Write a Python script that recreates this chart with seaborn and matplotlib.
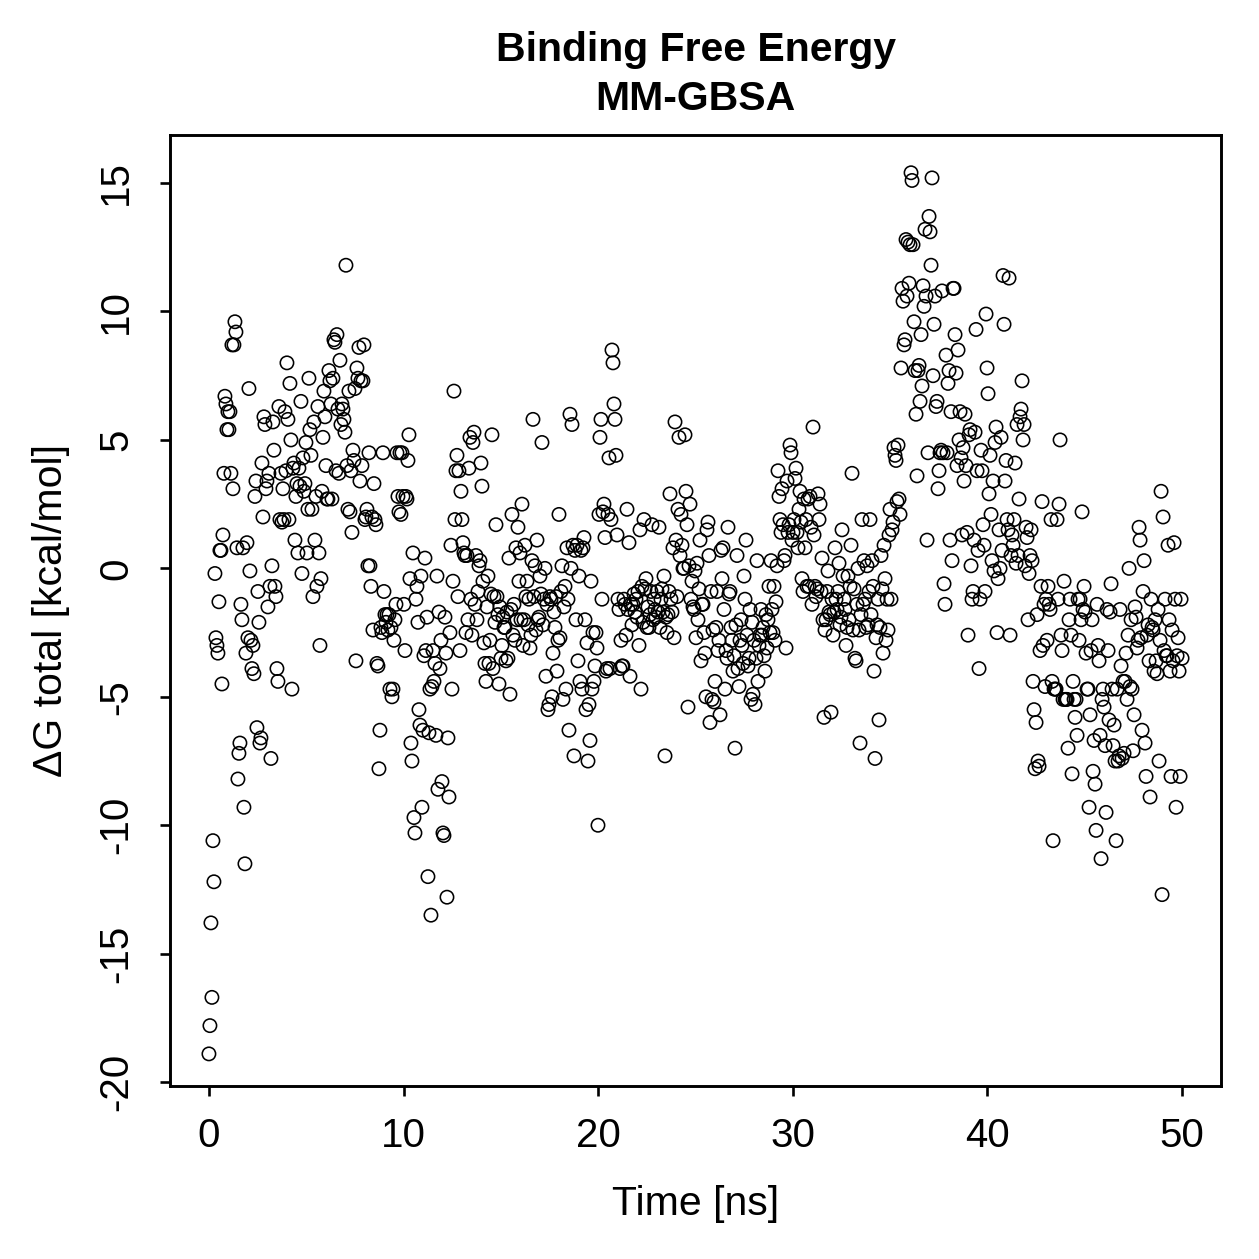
import numpy as np
import pandas as pd
import seaborn as sns
import matplotlib
matplotlib.use("Agg")
import matplotlib.pyplot as plt

# Delta G total (kcal/mol) in 5 ns blocks (time order)
dg_00_05 = [-18.9, -17.8, -13.8, -16.7, -10.6, -12.2, -0.2, -2.7, -3.0, -3.3, -1.3, 0.7, 0.7, -4.5, 1.3, 3.7, 6.7, 6.4, 5.4, 6.1,
            5.4, 6.1, 3.7, 8.7, 3.1, 8.7, 9.6, 9.2, 0.8, -8.2, -7.2, -6.8, -1.4, -2.0, 0.8, -9.3, -11.5, -3.3, 1.0, -2.7,
            7.0, -0.1, -2.8, -3.9, -3.0, -4.1, 2.8, 3.4, -6.2, -0.9, -2.1, -6.8, -6.6, 4.1, 2.0, 5.9, 5.6, 3.1, 3.4, -1.5,
            3.7, -0.7, -7.4, 0.1, 5.7, 4.6, -0.7, -1.1, -3.9, -4.4, 6.3, 1.9, 3.7, 1.8, 3.1, 1.9, 6.1, 3.8, 8.0, 5.8,
            1.9, 7.2, 5.0, -4.7, 3.9, 4.1, 1.1, 2.8, 3.3, 0.6, 3.9, 3.2, 6.5, -0.2, 4.3, 3.0, 3.3, 4.9, 0.6, 2.3]
dg_05_10 = [7.4, 5.4, 4.4, 2.3, -1.1, 5.7, 1.1, 2.8, -0.7, 6.3, 0.6, -3.0, -0.4, 3.0, 5.1, 6.9, 5.9, 4.0, 2.7, 2.7,
            7.7, 7.3, 6.4, 2.7, 7.4, 8.9, 8.8, 3.8, 9.1, 6.2, 3.7, 8.1, 5.6, 6.4, 6.2, 5.8, 5.3, 11.8, 4.0, 2.3,
            6.9, 2.2, 3.8, 1.4, 4.6, 4.2, 7.0, -3.6, 7.8, 7.4, 8.6, 3.4, 7.3, 4.0, 7.3, 8.7, 1.9, 2.0, 2.3, 0.1,
            4.5, 0.1, -0.7, 2.0, -2.4, 3.3, 1.9, 1.7, -3.7, -3.8, -7.8, -6.3, -2.3, -2.5, 4.5, -0.9, -1.8, -2.1, -1.8, -2.4,
            -1.8, -4.7, -2.3, -5.0, -4.7, -2.8, -2.0, -1.4, 4.5, 2.8, 2.2, 4.5, 2.1, 4.5, 2.8, -1.4, -3.2, 2.8, 2.7, 4.2]
dg_10_15 = [5.2, -0.4, -6.8, -7.5, 0.6, -9.7, -10.3, -1.2, -0.7, -2.1, -5.5, -6.1, -0.3, -9.3, -6.3, -3.4, 0.4, -3.2, -1.9, -12.0,
            -6.4, -4.7, -13.5, -4.6, -3.2, -4.4, -3.7, -6.5, -0.3, -8.6, -1.7, -3.9, -2.8, -8.3, -10.3, -10.4, -1.9, -3.3, -12.8, -6.6,
            -8.9, -2.5, 0.9, -4.7, -0.5, 6.9, 1.9, 3.8, 4.4, -1.1, 3.8, -3.2, 3.0, 1.9, 1.0, 0.6, 0.5, -2.5, 0.5, -2.0,
            3.9, 5.1, -1.2, -2.6, 4.9, 5.3, -1.4, 0.5, -2.0, -0.9, 0.1, 0.3, 4.1, 3.2, -0.5, -2.9, -3.7, -4.4, -1.5, -0.3,
            -3.7, -2.8, -1.0, 5.2, -3.9, -1.1, -2.1, 1.7, -1.1, -1.8, -4.5, -1.5, -3.5, -3.0, -1.9, -2.3, -2.3, -3.6, -1.7, -3.5]
dg_15_20 = [0.4, -4.9, -1.6, 2.1, -2.6, -1.4, -2.8, 0.8, -2.0, 1.6, -0.5, 0.6, -2.0, 2.5, -3.0, -2.0, 0.9, -1.1, -0.5, -2.2,
            -1.2, -3.1, -2.6, 0.3, 5.8, -1.1, 0.1, -2.4, 1.1, -2.0, -1.9, -0.3, -1.0, 4.9, -2.2, -1.2, 0.0, -4.2, -1.4, -5.5,
            -5.3, -1.1, -1.2, -5.0, -3.3, -1.7, -2.3, -1.1, -4.0, -2.8, 2.1, -2.7, -0.9, 0.1, -5.1, -1.5, -0.7, -4.7, 0.8, -1.2,
            -6.3, 6.0, 0.0, 5.6, 0.9, -7.3, 0.7, -2.0, 0.9, -3.6, -0.3, -4.4, 0.7, -4.7, 0.8, 1.2, -2.0, -5.5, -2.9, -7.5,
            -5.3, -6.7, -0.5, -4.7, -2.5, -4.4, -3.8, -2.5, -3.1, -10.0, 2.1, 5.1, 5.8, -1.2, 2.2, 2.5, 1.2, -4.0, -3.9, 2.1]
dg_20_25 = [4.3, -3.9, 1.9, 8.5, 8.0, 6.4, 5.8, 4.4, 1.3, -1.2, -1.6, -3.9, -2.8, -3.8, -3.8, -1.2, -1.4, -2.6, 2.3, -1.6,
            1.0, -4.2, -1.4, -2.2, -1.4, -1.0, -1.7, -1.2, -1.9, -0.9, -3.0, 1.5, -4.7, -0.7, -2.1, 1.9, -0.8, -0.4, -2.3, -1.5,
            -2.3, -1.8, -0.9, 1.7, -2.0, -1.2, -1.6, -1.9, -0.9, -1.7, 1.6, -2.3, -1.2, -0.8, -1.7, -0.3, -7.3, -1.9, -2.5, -1.8,
            -0.9, 2.9, -1.2, -1.7, 0.8, -2.7, 5.7, 1.1, -1.1, 2.3, 5.1, 0.5, 2.1, 0.9, 0.0, 0.0, 5.2, 3.0, 1.7, -5.4,
            0.1, 2.5, -1.2, -0.5, -1.5, -1.6, -0.1, -2.7, 0.2, -2.0, -0.8, 1.1, -3.6, -1.4, -1.4, -2.5, -3.3, -5.0, 1.5, 1.8]
dg_25_30 = [0.5, -6.0, -0.9, -5.1, -2.4, -5.2, -4.4, -2.3, -0.9, -3.2, -2.8, -5.7, 0.7, -0.4, 0.8, -1.6, -4.7, -3.2, -3.5, 1.6,
            -1.0, -0.9, -2.3, -2.8, -4.0, -3.4, -7.0, -2.2, 0.5, -3.9, -4.6, -2.8, -2.0, -3.0, -3.7, -0.3, -1.2, 1.1, -2.6, -3.8,
            -3.5, -1.6, -5.1, -2.1, -4.9, -2.8, -5.3, -3.5, 0.3, -4.4, -3.0, -2.6, -1.6, -2.6, -2.3, -3.4, -4.0, -1.8, -3.1, -2.0,
            -0.7, -2.5, 0.3, -1.6, -2.5, -0.7, -2.8, -1.3, 0.1, 3.8, 2.8, 1.9, 1.4, 3.1, 1.7, 0.3, 0.5, -3.1, 3.4, 1.4,
            1.7, 4.8, 4.5, 1.1, 1.4, 1.9, 3.5, 3.9, 1.4, 0.8, 2.3, 3.0, 1.8, -0.4, -0.9, 2.7, 0.8, 1.9, -0.7, 2.7]
dg_30_35 = [-0.7, 2.8, 1.6, -1.4, 5.5, 1.3, -0.7, -1.1, -0.8, 2.9, 1.9, 2.5, -0.9, 0.4, -2.0, -5.8, -2.4, -2.0, -0.9, -0.1,
            -1.7, -1.8, -5.6, -1.2, -2.6, -1.7, 0.8, -1.2, -1.6, -0.9, 0.2, -2.2, -1.9, 1.5, -0.3, -1.2, -1.6, -3.0, -2.3, -0.3,
            -2.0, -0.7, 0.9, 3.7, -2.4, -0.8, -3.5, -3.6, -1.4, 0.0, -2.4, -6.8, -1.8, 1.9, -1.4, 0.3, -1.2, -2.3, 0.1, -2.2,
            -0.9, 1.9, -1.8, 0.3, -0.7, -4.0, -7.4, -2.7, -2.2, -1.2, -5.9, -2.3, 0.5, -0.8, -3.3, 0.9, -0.4, -2.8, -1.2, -2.4,
            1.3, 2.3, -1.2, 1.5, 1.8, 4.7, 4.4, 4.2, 2.6, 4.8, 2.7, 2.1, 7.8, 10.9, 10.4, 8.7, 8.9, 12.8, 10.6, 12.7]
dg_35_40 = [11.1, 12.6, 15.4, 15.1, 12.6, 9.6, 7.7, 6.0, 3.6, 7.7, 7.9, 6.5, 9.1, 7.1, 11.0, 10.2, 13.2, 10.6, 1.1, 4.5,
            13.7, 13.1, 11.8, 15.2, 7.5, 9.5, 10.6, 6.3, 6.5, 3.1, 3.8, 4.5, 4.6, 10.8, 4.5, -0.6, -1.4, 8.3, 4.5, 7.2,
            7.7, 1.1, 6.1, 0.3, 10.9, 10.9, 9.1, 7.6, 4.0, 8.5, 5.0, 6.1, 4.3, 1.3, 4.7, 3.4, 6.0, 4.0, 1.4, -2.6,
            5.2, 5.4, 0.1, -1.2, -0.9, 1.1, 5.3, 9.3, 3.8, 0.7, -3.9, -1.2, 4.6, 3.8, 1.7, 0.9, -0.9, 9.9, 7.8, 6.8,
            2.9, 4.4, 2.1, 0.3, 3.4, -0.1, 4.9, 5.5, -2.5, -0.4, 1.5, 0.0, 5.1, 0.7, 11.4, 9.5, 3.4, 4.2, 1.9, 1.5]
dg_40_45 = [11.3, -2.6, 0.5, 1.3, 0.9, 1.9, 4.1, 0.2, 5.6, 0.5, 2.7, 5.9, 6.2, 7.3, 5.0, 5.6, 0.1, 1.6, 1.2, -2.0,
            -0.2, 0.5, 1.5, 0.3, -4.4, -5.5, -7.8, -6.0, -1.8, -7.5, -7.7, -3.2, -0.7, 2.6, -3.0, -1.4, -4.6, -1.2, -2.8, -0.7,
            -1.4, -1.6, 1.9, -4.4, -10.6, -4.7, -4.7, -4.7, 1.9, -1.2, 2.5, 5.0, -2.6, -3.2, -5.1, -0.5, -5.1, -5.1, -5.1, -7.0,
            -2.0, -1.2, -2.6, -8.0, -4.4, -5.1, -5.8, -5.1, -6.5, -1.2, -2.8, -1.2, -2.0, 2.2, -1.6, -0.7, -1.7, -3.3, -4.7, -4.7,
            -9.3, -5.7, -3.2, -2.0, -7.9, -6.7, -8.4, -10.2, -1.4, -3.0, -3.6, -6.5, -11.3, -5.1, -4.7, -5.4, -6.9, -9.5, -1.6, -3.2]
dg_45_50 = [-5.9, -1.7, -0.6, -4.7, -6.9, -6.1, -7.5, -10.6, -4.7, -7.5, -7.3, -1.6, -3.8, -7.4, -4.4, -7.2, -4.4, -3.3, -5.1, -2.6,
            0.0, -4.6, -2.0, -4.7, -7.1, -5.7, -1.5, -1.9, -3.1, -2.8, 1.6, 1.1, -2.7, -6.3, -0.9, 0.3, -6.8, -8.1, -2.6, -2.2,
            -3.6, -8.9, -1.2, -2.3, -2.4, -4.0, -2.0, -3.6, -4.1, -1.6, -7.5, -2.8, 3.0, -12.7, 2.0, -3.2, -1.2, -3.4, -3.4, 0.9,
            -2.0, -4.0, -8.1, -2.4, -3.6, 1.0, -1.2, -9.3, -3.4, -2.7, -4.0, -8.1, -1.2, -3.5]

delta_g = dg_00_05 + dg_05_10 + dg_10_15 + dg_15_20 + dg_20_25 + dg_25_30 + dg_30_35 + dg_35_40 + dg_40_45 + dg_45_50
t_start, t_end = 0.0, 50.0
time_ns = np.linspace(t_start, t_end, len(delta_g))  # frames evenly spaced in time

x_ticks = [0, 10, 20, 30, 40, 50]
y_ticks = [-20, -15, -10, -5, 0, 5, 10, 15]
title_text = "Binding Free Energy\nMM-GBSA"
x_label = "Time [ns]"
y_label = "\u0394G total [kcal/mol]"

df = pd.DataFrame({"time": time_ns, "dg": delta_g})

sns.set_style("ticks")
plt.rcParams["font.family"] = ["Liberation Sans", "DejaVu Sans"]
plt.rcParams["text.color"] = "black"
plt.rcParams["axes.labelcolor"] = "black"
plt.rcParams["xtick.color"] = "black"
plt.rcParams["ytick.color"] = "black"
plt.rcParams["axes.edgecolor"] = "black"

fig = plt.figure(figsize=(12.59, 12.59), dpi=100)
ax = fig.add_axes([170/1259, 1 - 1086/1259, (1221-170)/1259, (1086-135)/1259])

sns.scatterplot(data=df, x="time", y="dg", ax=ax, marker="o", s=92,
                color="black", facecolor="none", edgecolor="black", linewidth=1.15)

ax.set_xlim(-2, 52)
ax.set_ylim(-20.15, 16.87)
ax.set_xticks(x_ticks)
ax.set_yticks(y_ticks)
ax.set_xticklabels([str(v) for v in x_ticks], fontsize=29, color="black")
ax.set_yticklabels([str(v) for v in y_ticks], fontsize=29, rotation=90, va="center", color="black")
ax.tick_params(axis="both", direction="out", length=7, width=1.9, color="black", labelcolor="black")
ax.tick_params(axis="x", pad=15)
ax.tick_params(axis="y", pad=18)
for sp in ax.spines.values():
    sp.set_visible(True)
    sp.set_linewidth(2.1)
    sp.set_color("black")

ax.set_xlabel(x_label, fontsize=29.5, labelpad=22, color="black")
ax.set_ylabel(y_label, fontsize=29.5, labelpad=20, color="black")
ax.set_title(title_text, fontsize=29.5, fontweight="bold", pad=18, linespacing=1.38, color="black")

fig.savefig("out.png", dpi=100, facecolor="white")
